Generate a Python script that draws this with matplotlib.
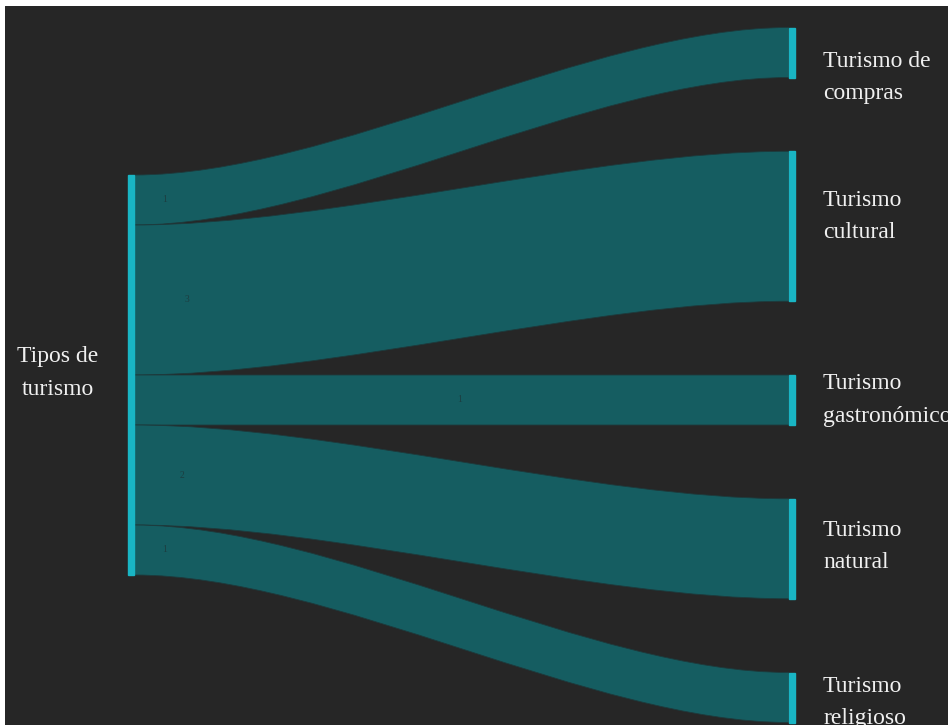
import matplotlib.pyplot as plt
from matplotlib.path import Path
from matplotlib.patches import PathPatch, Rectangle

# data
source = "Tipos de\nturismo"
targets = [
    "Turismo de\ncompras",
    "Turismo\ncultural",
    "Turismo\ngastronómico",
    "Turismo\nnatural",
    "Turismo\nreligioso",
]
values = [1, 3, 1, 2, 1]

# style
BG = "#262626"
LINK = "#155d61"
NODE = "#19b5c4"
TEXT = "#f0f0f0"
FONT = "Liberation Serif"

# layout (pixel space of a 948x725 canvas)
unit = 50          # px per unit of value
x_left, x_right = 128, 789
node_w = 6
center = 375
gap = 73.75
curv = 0.3         # bezier control point offset as fraction of link length
label_dy = [25, -10, 0, -2, 5]
value_x = [165, 187, 460, 182, 165]

total = sum(values)
left_top = center - total * unit / 2
right_top = center - (total * unit + gap * (len(values) - 1)) / 2

fig = plt.figure(figsize=(9.48, 7.25), dpi=100, facecolor="white")
ax = fig.add_axes([5 / 948, 0, 943 / 948, 719 / 725])
ax.set_facecolor(BG)
ax.set_xlim(5, 948)
ax.set_ylim(725, 6)
ax.set_axis_off()
ax.add_patch(Rectangle((5, 6), 943, 719, color=BG, zorder=0))

x0 = x_left + node_w
x1 = x_right
xa = x0 + curv * (x1 - x0)
xb = x1 - curv * (x1 - x0)

ly = left_top
ry = right_top
for i, (name, v) in enumerate(zip(targets, values)):
    h = v * unit
    verts = [
        (x0, ly), (xa, ly), (xb, ry), (x1, ry),
        (x1, ry + h),
        (xb, ry + h), (xa, ly + h), (x0, ly + h),
        (x0, ly),
    ]
    codes = [Path.MOVETO, Path.CURVE4, Path.CURVE4, Path.CURVE4,
             Path.LINETO,
             Path.CURVE4, Path.CURVE4, Path.CURVE4,
             Path.CLOSEPOLY]
    ax.add_patch(PathPatch(Path(verts, codes), facecolor=LINK,
                           edgecolor="#1d3a3c", lw=0.6, zorder=1))
    # right node
    ax.add_patch(Rectangle((x_right, ry), node_w, h, color=NODE, zorder=2))
    ax.text(x_right + node_w + 28, ry + h / 2 + label_dy[i], name,
            ha="left", va="center", color=TEXT, fontsize=17,
            family=FONT, linespacing=1.7, zorder=3)
    # faint value label on the link
    ax.text(value_x[i], ly + h / 2, str(v), ha="center", va="center",
            color="#1c3e41", fontsize=7, family=FONT, zorder=3)
    ly += h
    ry += h + gap

# left node
ax.add_patch(Rectangle((x_left, left_top), node_w, total * unit,
                       color=NODE, zorder=2))
ax.text(x_left - 70, center - 2, source, ha="center", va="center",
        color=TEXT, fontsize=17, family=FONT, linespacing=1.7, zorder=3)

fig.savefig("out.png", dpi=100, facecolor="white")
